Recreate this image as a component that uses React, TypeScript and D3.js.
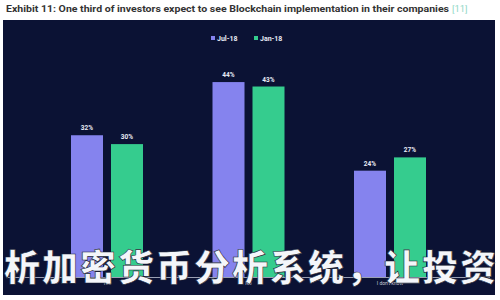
import React from "react";
import * as d3 from "d3";

const categories = ["Yes", "No", "I don't know"];
const seriesNames = ["Jul-18", "Jan-18"];
const jul18 = [32, 44, 24];
const jan18 = [30, 43, 27];
const seriesColors = ["#8583ee", "#35cc8e"];
const watermark = "析加密货币分析系统，让投资";
const titleText = "Exhibit 11: One third of investors expect to see Blockchain implementation in their companies";
const titleRef = "[11]";

export default function App() {
  const W = 500, H = 300;
  const x = d3.scalePoint<string>().domain(categories).range([36.25, 460.75]).padding(0.5);
  const inner = d3.scaleBand<string>().domain(seriesNames).range([-36, 36]).paddingInner(0.2).paddingOuter(0);
  const y = d3.scaleLinear().domain([0, 50]).range([277, 55.5]);
  const values = [jul18, jan18];
  return (
    <svg width={W} height={H} style={{ position: "absolute", left: 0, top: 0, background: "#fff" }}>
      <text x={6} y={12} fontFamily="Roboto, 'Open Sans', sans-serif" fontWeight={700} fontSize={9.4} fill="#333" textLength={443} lengthAdjust="spacingAndGlyphs">
        {titleText}
      </text>
      <text x={452} y={12} fontFamily="Roboto, sans-serif" fontSize={9.4} fill="#8fd8c6">{titleRef}</text>
      <rect x={3} y={20} width={492} height={275} fill="#0b1234" />
      {/* legend */}
      {seriesNames.map((s, i) => {
        const lx = 211 + i * 43;
        return (
          <g key={s}>
            <rect x={lx} y={36} width={4} height={4} fill={seriesColors[i]} />
            <text x={lx + 6} y={40.5} fontFamily="Roboto, sans-serif" fontWeight={700} fontSize={7} fill="#e8ebf5">{s}</text>
          </g>
        );
      })}
      {/* bars */}
      {seriesNames.map((s, si) =>
        categories.map((c, ci) => {
          const v = values[si][ci];
          const bx = (x(c) as number) + (inner(s) as number);
          return (
            <g key={s + c}>
              <rect x={bx} y={y(v)} width={inner.bandwidth()} height={y(0) - y(v)} fill={seriesColors[si]} />
              <text x={bx + inner.bandwidth() / 2} y={y(v) - 5} textAnchor="middle" fontFamily="Roboto, sans-serif" fontWeight={700} fontSize={6.5} fill="#e8ebf5">{v}%</text>
            </g>
          );
        })
      )}
      <line x1={8} x2={490} y1={277.5} y2={277.5} stroke="#9aa0b4" strokeWidth={1} />
      {categories.map((c) => (
        <text key={c} x={x(c) as number} y={285} textAnchor="middle" fontFamily="Roboto, sans-serif" fontSize={5} fill="#c8ccd8">{c}</text>
      ))}
      {/* overlay watermark */}
      <text x={4} y={281} fontFamily="'Noto Sans CJK SC', sans-serif" fontWeight={900} fontSize={36} fill="#f4f6fa" stroke="#1a1f33" strokeWidth={0.6} textLength={492} lengthAdjust="spacing">
        {watermark}
      </text>
    </svg>
  );
}
